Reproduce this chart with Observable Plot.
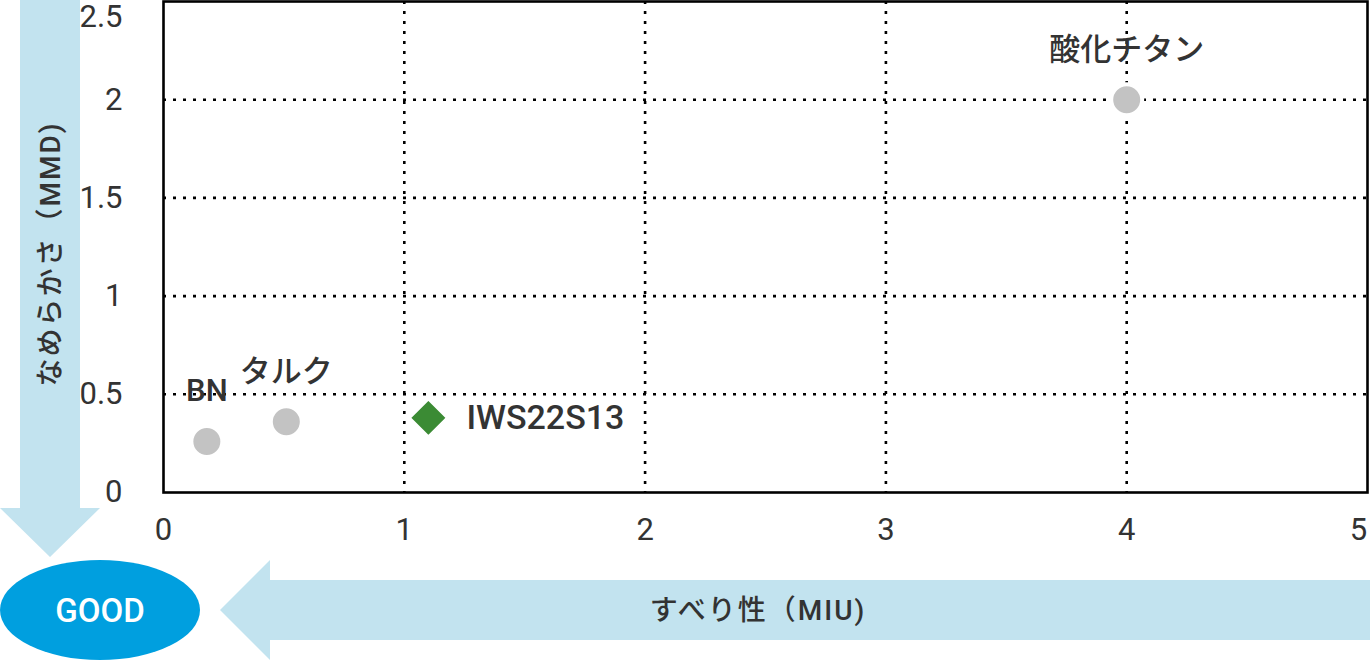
<!DOCTYPE html>
<html><head><meta charset="utf-8">
<script src="https://cdn.jsdelivr.net/npm/d3@7"></script>
<script src="https://cdn.jsdelivr.net/npm/@observablehq/plot@0.6"></script>
<style>
html,body{margin:0;padding:0;background:#fff}
#chart svg{display:block}
</style>
</head><body><div id="chart"></div>
<script>
// ---- data ----
const names = ["BN", "タルク", "IWS22S13", "酸化チタン"];
const miu = [0.18, 0.51, 1.1, 4.0];     // すべり性 (MIU)
const mmd = [0.26, 0.36, 0.38, 2.0];    // なめらかさ (MMD)
const kinds = ["ref", "ref", "own", "ref"];
const xTicks = [0, 1, 2, 3, 4, 5];
const yTicks = [0, 0.5, 1, 1.5, 2, 2.5];
const xGrid = [1, 2, 3, 4];
const yGrid = [0.5, 1, 1.5, 2];
const xTitle = "すべり性（MIU)";
const yTitle = "なめらかさ（MMD)";
const goodLabel = "GOOD";

const points = names.map((name, i) => ({name, miu: miu[i], mmd: mmd[i], kind: kinds[i]}));
const refPts = points.filter(d => d.kind === "ref");
const ownPts = points.filter(d => d.kind === "own");

const W = 1370, H = 660;
const labelFont = "Roboto, 'Noto Sans CJK JP', sans-serif";
const grid = {stroke: "#000", strokeWidth: 2.6, strokeDasharray: "3,7", strokeOpacity: 1};
const fmt = d => `${d}`;
const tickStyle = {tickSize: 0, label: null, fontWeight: 400, fill: "#333", tickFormat: fmt};

const chart = Plot.plot({
  width: W, height: H,
  marginLeft: 163, marginRight: 3, marginTop: 1, marginBottom: 168,
  style: {fontFamily: "Roboto, sans-serif", fontSize: "31px", color: "#333", background: "#fff", overflow: "visible"},
  x: {domain: [0, 5]},
  y: {domain: [0, 2.5]},
  marks: [
    Plot.ruleX(xGrid, grid),
    Plot.ruleY(yGrid, grid),
    Plot.frame({stroke: "#000", strokeWidth: 2.6}),
    Plot.axisX(xTicks.slice(0, -1), {...tickStyle, tickPadding: 25}),
    Plot.axisX(xTicks.slice(-1), {...tickStyle, tickPadding: 25, dx: -9}),
    Plot.axisY(yTicks.slice(0, -1), {...tickStyle, tickPadding: 41}),
    Plot.axisY(yTicks.slice(-1), {...tickStyle, tickPadding: 41, dy: 16}),
    Plot.dot(refPts, {x: "miu", y: "mmd", r: 15.5, fill: "#c3c3c3", stroke: "#fff", strokeWidth: 4}),
    Plot.dot(ownPts, {x: "miu", y: "mmd", r: 16.5, symbol: "diamond2", fill: "#3b8b34", stroke: "#fff", strokeWidth: 2}),
    Plot.text(refPts, {x: "miu", y: "mmd", text: "name", dy: -50, fontSize: 31, fontWeight: 500, fill: "#333", fontFamily: labelFont, letterSpacing: 1.5}),
    Plot.text(ownPts, {x: "miu", y: "mmd", text: "name", dx: 38, textAnchor: "start", fontSize: 34, fontWeight: 500, fill: "#333", fontFamily: labelFont, letterSpacing: 2})
  ]
});

// ---- decorations (arrows, GOOD badge, axis titles) ----
const svg = d3.select(chart);
const deco = svg.insert("g", ":first-child");
const arrowFill = "#c2e3ef";
// vertical arrow (down)
deco.append("path")
  .attr("d", "M20,0 L80,0 L80,508 L100,508 L50,557 L0,508 L20,508 Z")
  .attr("fill", arrowFill);
// horizontal arrow (left)
deco.append("path")
  .attr("d", `M${W},580 L270,580 L270,560 L220,610 L270,660 L270,640 L${W},640 Z`)
  .attr("fill", arrowFill);
// GOOD ellipse
deco.append("ellipse").attr("cx", 100).attr("cy", 610).attr("rx", 100).attr("ry", 50).attr("fill", "#009fdf");
deco.append("text").text(goodLabel)
  .attr("x", 100).attr("y", 610).attr("dy", "0.36em")
  .attr("text-anchor", "middle").attr("fill", "#fff")
  .style("font-family", "Roboto, sans-serif").style("font-size", "33px").style("font-weight", 500);
// x title
deco.append("text").text(xTitle)
  .attr("x", 758).attr("y", 610).attr("dy", "0.36em")
  .attr("text-anchor", "middle").attr("fill", "#333")
  .style("font-family", labelFont).style("font-size", "28px").style("font-weight", 500)
  .style("letter-spacing", "2px");
// y title
deco.append("text").text(yTitle)
  .attr("transform", "translate(50,254) rotate(-90)").attr("dy", "0.36em")
  .attr("text-anchor", "middle").attr("fill", "#333")
  .style("font-family", labelFont).style("font-size", "28px").style("font-weight", 500)
  .style("letter-spacing", "2px");

document.getElementById("chart").appendChild(chart);
</script>
</body></html>
